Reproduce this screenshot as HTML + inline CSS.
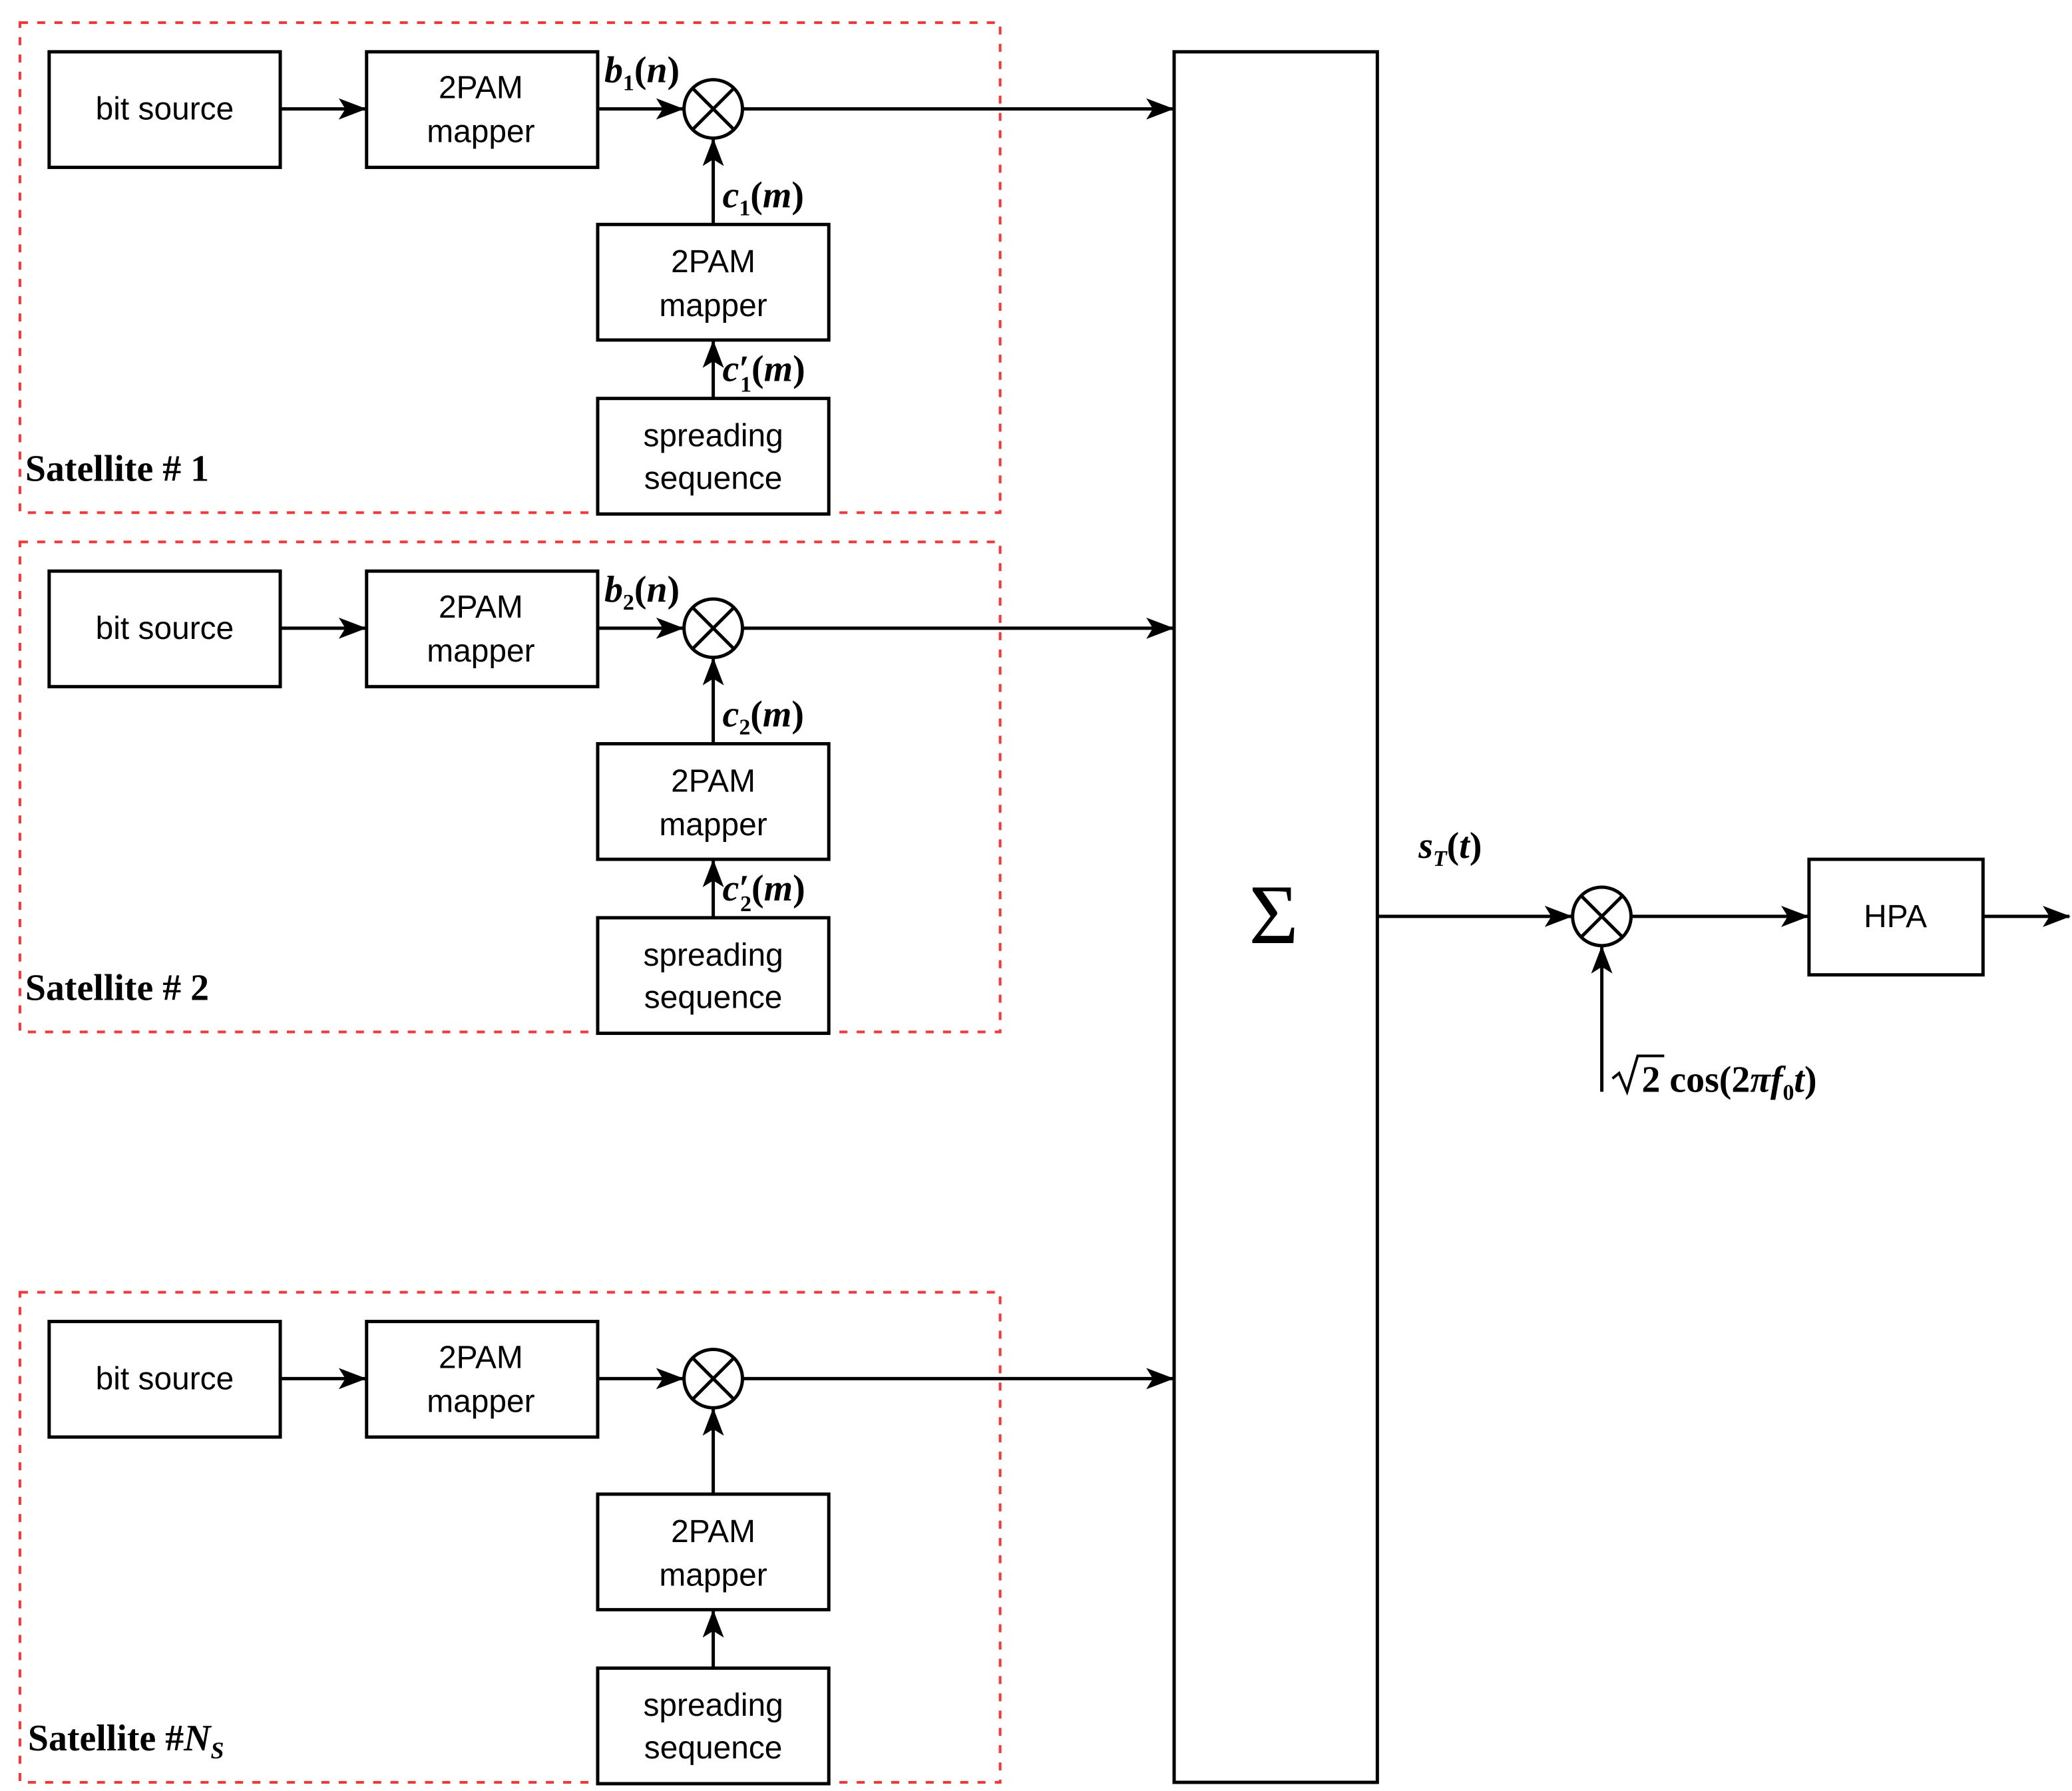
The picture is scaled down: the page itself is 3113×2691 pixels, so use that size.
<!DOCTYPE html>
<html><head><meta charset="utf-8"><style>
html,body{margin:0;padding:0;background:#fff;}
svg{display:block;}
.b{font-family:"Liberation Sans",sans-serif;font-size:24px;text-anchor:middle;}
.m{font-family:"Liberation Serif",serif;font-style:italic;font-size:28px;font-weight:bold;}
.r{font-family:"Liberation Serif",serif;font-size:28px;font-weight:bold;}
</style></head><body>
<svg width="3113" height="2691" viewBox="0 0 1560 1348.5" xmlns="http://www.w3.org/2000/svg">
<defs>
<marker id="a" markerUnits="userSpaceOnUse" markerWidth="24" markerHeight="18" refX="20" refY="8" orient="auto" viewBox="0 0 24 16">
<path d="M0,0 L21,8 L0,16 L5,8 z" fill="#000"/>
</marker>
<g id="sat">
<rect x="15" y="17" width="738" height="369" fill="none" stroke="#ff3333" stroke-width="2" stroke-dasharray="6,7"/>
<rect x="37" y="39" width="174" height="87" fill="#fff" stroke="#000" stroke-width="2.5"/>
<text class="b" x="124" y="90">bit source</text>
<rect x="276" y="39" width="174" height="87" fill="#fff" stroke="#000" stroke-width="2.5"/>
<text class="b" x="362" y="74">2PAM</text><text class="b" x="362" y="107">mapper</text>
<line x1="211" y1="82" x2="275" y2="82" stroke="#000" stroke-width="2.5" marker-end="url(#a)"/>
<line x1="450" y1="82" x2="514" y2="82" stroke="#000" stroke-width="2.5" marker-end="url(#a)"/>
<circle cx="537" cy="82" r="22" fill="#fff" stroke="#000" stroke-width="2.5"/>
<line x1="521.4" y1="66.4" x2="552.6" y2="97.6" stroke="#000" stroke-width="2.5"/>
<line x1="552.6" y1="66.4" x2="521.4" y2="97.6" stroke="#000" stroke-width="2.5"/>
<line x1="559" y1="82" x2="883" y2="82" stroke="#000" stroke-width="2.5" marker-end="url(#a)"/>
<rect x="450" y="169" width="174" height="87" fill="#fff" stroke="#000" stroke-width="2.5"/>
<text class="b" x="537" y="205">2PAM</text><text class="b" x="537" y="238">mapper</text>
<line x1="537" y1="169" x2="537" y2="105" stroke="#000" stroke-width="2.5" marker-end="url(#a)"/>
<rect x="450" y="300" width="174" height="87" fill="#fff" stroke="#000" stroke-width="2.5"/>
<text class="b" x="537" y="336">spreading</text><text class="b" x="537" y="368">sequence</text>
<line x1="537" y1="300" x2="537" y2="257" stroke="#000" stroke-width="2.5" marker-end="url(#a)"/>
</g>
</defs>
<use href="#sat"/>
<use href="#sat" transform="translate(0,391)"/>
<use href="#sat" transform="translate(0,956)"/>
<text class="m" x="455" y="62">b<tspan font-size="17" font-style="normal" dy="6">1</tspan><tspan dy="-6" font-style="normal">(</tspan>n<tspan font-style="normal">)</tspan></text>
<text class="m" x="544" y="156">c<tspan font-size="17" font-style="normal" dy="6">1</tspan><tspan dy="-6" font-style="normal">(</tspan>m<tspan font-style="normal">)</tspan></text>
<text class="m" x="544" y="287">c<tspan font-style="normal">′</tspan><tspan font-size="17" font-style="normal" dx="-7" dy="8">1</tspan><tspan dy="-8" font-style="normal">(</tspan>m<tspan font-style="normal">)</tspan></text>
<text class="r" x="19" y="362">Satellite # 1</text>
<text class="m" x="455" y="453">b<tspan font-size="17" font-style="normal" dy="6">2</tspan><tspan dy="-6" font-style="normal">(</tspan>n<tspan font-style="normal">)</tspan></text>
<text class="m" x="544" y="547">c<tspan font-size="17" font-style="normal" dy="6">2</tspan><tspan dy="-6" font-style="normal">(</tspan>m<tspan font-style="normal">)</tspan></text>
<text class="m" x="544" y="678">c<tspan font-style="normal">′</tspan><tspan font-size="17" font-style="normal" dx="-7" dy="8">2</tspan><tspan dy="-8" font-style="normal">(</tspan>m<tspan font-style="normal">)</tspan></text>
<text class="r" x="19" y="753">Satellite # 2</text>
<text class="r" x="21" y="1318">Satellite #<tspan font-style="italic">N</tspan><tspan font-style="italic" font-size="18" dy="6">S</tspan></text>
<rect x="884" y="39" width="153" height="1303" fill="#fff" stroke="#000" stroke-width="2.5"/>
<text x="959" y="710" font-family="Liberation Serif,serif" font-size="64" text-anchor="middle">Σ</text>
<line x1="1037" y1="690" x2="1183" y2="690" stroke="#000" stroke-width="2.5" marker-end="url(#a)"/>
<text class="m" x="1068" y="646">s<tspan font-size="17" dy="6">T</tspan><tspan dy="-6" font-style="normal">(</tspan>t<tspan font-style="normal">)</tspan></text>
<circle cx="1206" cy="690" r="22" fill="#fff" stroke="#000" stroke-width="2.5"/>
<line x1="1190.4" y1="674.4" x2="1221.6" y2="705.6" stroke="#000" stroke-width="2.5"/>
<line x1="1221.6" y1="674.4" x2="1190.4" y2="705.6" stroke="#000" stroke-width="2.5"/>
<line x1="1206" y1="822" x2="1206" y2="713" stroke="#000" stroke-width="2.5" marker-end="url(#a)"/>
<line x1="1228" y1="690" x2="1361" y2="690" stroke="#000" stroke-width="2.5" marker-end="url(#a)"/>
<rect x="1362" y="647" width="131" height="87" fill="#fff" stroke="#000" stroke-width="2.5"/>
<text class="b" x="1427" y="698">HPA</text>
<line x1="1493" y1="690" x2="1558" y2="690" stroke="#000" stroke-width="2.5" marker-end="url(#a)"/>
<path d="M1214,812 L1219,808 L1225,822 L1233,795 L1253,795" fill="none" stroke="#000" stroke-width="2"/>
<text class="r" x="1236" y="822">2 cos(2<tspan font-style="italic">πf</tspan><tspan font-size="17" dy="6">0</tspan><tspan dy="-6" font-style="italic">t</tspan>)</text>
</svg>
</body></html>
